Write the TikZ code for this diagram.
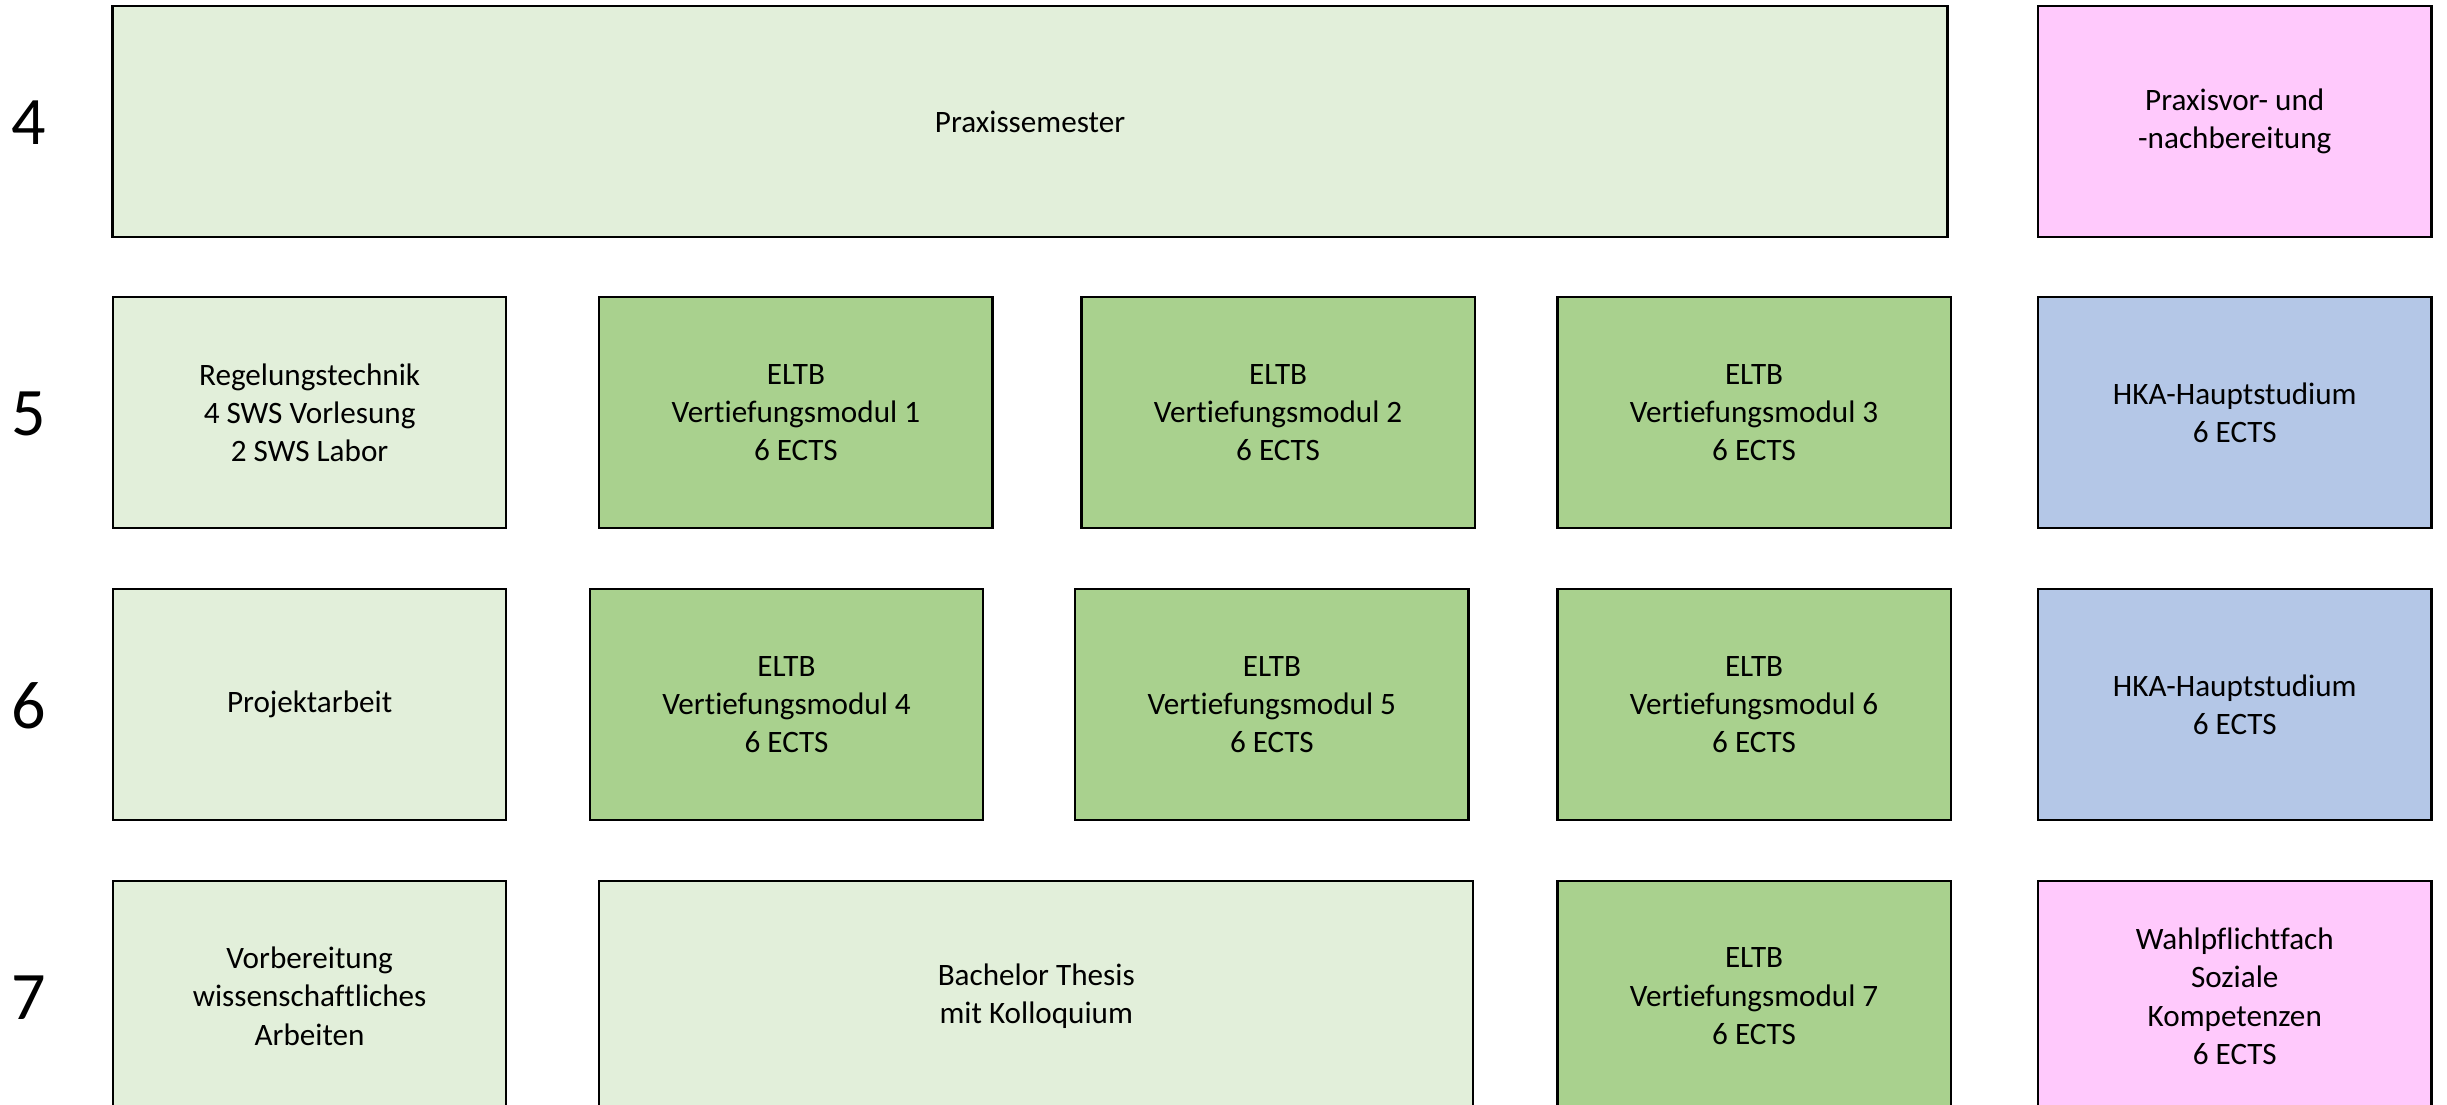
\documentclass[tikz,border=0pt]{standalone}
\usepackage{fontspec}
\setmainfont{Carlito}[Ligatures=NoCommon]
\definecolor{lgreen}{HTML}{E2EFDA}
\definecolor{dgreen}{HTML}{A9D18E}
\definecolor{lblue}{HTML}{B4C7E7}
\definecolor{lpink}{HTML}{FFC9FC}
\begin{document}
\begin{tikzpicture}[
  font=\fontsize{14.2}{17.4}\selectfont,
  mod/.style={draw, line width=1.1pt, align=center, inner sep=0pt,
    minimum width=63mm, minimum height=37mm},
  basis/.style={mod, fill=lgreen},
  vert/.style={mod, fill=dgreen},
  hka/.style={mod, fill=lblue},
  soft/.style={mod, fill=lpink},
  sem/.style={font=\fontsize{31}{37}\selectfont}
]
\clip (0mm,0mm) rectangle (392mm,-177mm);

% semester numbers
\node[sem] (s4) at (4.6mm,-19.6mm) {4};
\node[sem] (s5) at (4.6mm,-66.3mm) {5};
\node[sem] (s6) at (4.6mm,-113.1mm) {6};
\node[sem] (s7) at (4.6mm,-159.8mm) {7};

% semester 4
\node[basis, minimum width=294mm] (praxis) at (165mm,-19.5mm)
  {Praxissemester};
\node[soft] (prep) at (358mm,-19.5mm)
  {Praxisvor- und\\ -nachbereitung};

% semester 5
\node[basis] (rt) at (49.6mm,-66.1mm)
  {Regelungstechnik\\ 4 SWS Vorlesung\\ 2 SWS Labor};
\node[vert] (vm1) at (127.5mm,-66.1mm)
  {ELTB\\ Vertiefungsmodul 1\\ 6 ECTS};
\node[vert] (vm2) at (204.75mm,-66.1mm)
  {ELTB\\ Vertiefungsmodul 2\\ 6 ECTS};
\node[vert] (vm3) at (281mm,-66.1mm)
  {ELTB\\ Vertiefungsmodul 3\\ 6 ECTS};
\node[hka] (hka5) at (358mm,-66.1mm)
  {HKA-Hauptstudium\\ 6 ECTS};

% semester 6
\node[basis] (proj) at (49.6mm,-112.9mm)
  {Projektarbeit};
\node[vert] (vm4) at (126mm,-112.9mm)
  {ELTB\\ Vertiefungsmodul 4\\ 6 ECTS};
\node[vert] (vm5) at (203.75mm,-112.9mm)
  {ELTB\\ Vertiefungsmodul 5\\ 6 ECTS};
\node[vert] (vm6) at (281mm,-112.9mm)
  {ELTB\\ Vertiefungsmodul 6\\ 6 ECTS};
\node[hka] (hka6) at (358mm,-112.9mm)
  {HKA-Hauptstudium\\ 6 ECTS};

% semester 7
\node[basis] (wiss) at (49.6mm,-159.6mm)
  {Vorbereitung\\ wissenschaftliches\\ Arbeiten};
\node[basis, minimum width=140mm] (thesis) at (166mm,-159.6mm)
  {Bachelor Thesis\\ mit Kolloquium};
\node[vert] (vm7) at (281mm,-159.6mm)
  {ELTB\\ Vertiefungsmodul 7\\ 6 ECTS};
\node[soft] (wpf) at (358mm,-159.6mm)
  {Wahlpflichtfach\\ Soziale\\ Kompetenzen\\ 6 ECTS};
\end{tikzpicture}
\end{document}
